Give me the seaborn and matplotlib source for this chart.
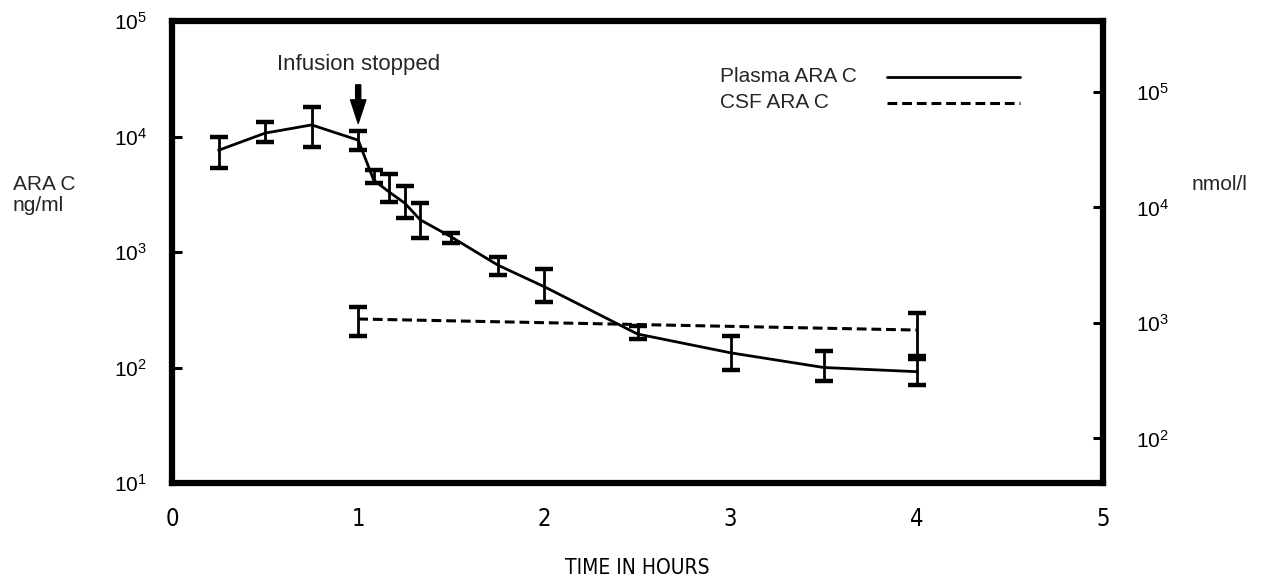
import matplotlib
matplotlib.use("Agg")
import matplotlib.pyplot as plt
import numpy as np
import pandas as pd
import seaborn as sns
from matplotlib import font_manager
from matplotlib.font_manager import FontProperties
from matplotlib.ticker import NullLocator

# ---------------- data ----------------
time_plasma = [0.25, 0.5, 0.75, 1.0, 1.083, 1.167, 1.25, 1.333, 1.5, 1.75, 2.0, 2.5, 3.0, 3.5, 4.0]
plasma_conc = [7600, 10700, 12600, 9300, 4200, 3300, 2650, 1900, 1350, 770, 500, 195, 134, 100, 92]
plasma_low = [5300, 8950, 8100, 7600, 3950, 2700, 1970, 1320, 1200, 630, 370, 177, 95, 76, 70]
plasma_high = [9900, 13400, 18000, 11200, 5100, 4700, 3700, 2650, 1460, 900, 710, 230, 187, 139, 118]

time_csf = [1.0, 4.0]
csf_conc = [263, 211]
csf_low = [187, 125]
csf_high = [334, 297]

x_ticks = [0, 1, 2, 3, 4, 5]
x_tick_labels = ["0", "1", "2", "3", "4", "5"]
y_ticks_ng = [1e1, 1e2, 1e3, 1e4, 1e5]
y_tick_labels_ng = [r"$\mathregular{10^{1}}$", r"$\mathregular{10^{2}}$", r"$\mathregular{10^{3}}$",
                    r"$\mathregular{10^{4}}$", r"$\mathregular{10^{5}}$"]
y_ticks_nmol = [1e2, 1e3, 1e4, 1e5]
y_tick_labels_nmol = [r"$\mathregular{10^{2}}$", r"$\mathregular{10^{3}}$",
                      r"$\mathregular{10^{4}}$", r"$\mathregular{10^{5}}$"]
NMOL_PER_NG = 4.11  # ARA C: 1 ng/ml = 4.11 nmol/l
series_labels = ["Plasma ARA C", "CSF ARA C"]
annotation_text = "Infusion stopped"
infusion_stop = 1.0

# ---------------- style ----------------
sns.set_theme(style="white")
plt.rcParams["font.family"] = ["Liberation Sans", "DejaVu Sans"]
plt.rcParams["mathtext.fontset"] = "custom"
plt.rcParams["mathtext.rm"] = "Liberation Sans"
plt.rcParams["mathtext.default"] = "regular"

# look for a condensed face for the time axis
cond_fp = None
names = {f.name for f in font_manager.fontManager.ttflist}
if "Liberation Sans Narrow" in names:
    cond_fp = FontProperties(family="Liberation Sans Narrow")
else:
    for f in font_manager.fontManager.ttflist:
        if "condensed" in str(f.stretch).lower() or "Condensed" in f.fname:
            if "DejaVuSans" in f.fname.replace("-", "") and "Bold" not in f.fname \
                    and "Oblique" not in f.fname and "Mono" not in f.fname:
                cond_fp = FontProperties(fname=f.fname)
                break
    if cond_fp is None:
        for f in font_manager.fontManager.ttflist:
            if ("Condensed" in f.fname or "Narrow" in f.fname) and "Bold" not in f.fname \
                    and "Italic" not in f.fname and "Oblique" not in f.fname:
                cond_fp = FontProperties(fname=f.fname)
                break
if cond_fp is None:
    cond_fp = FontProperties(family="Liberation Sans")

W, H = 1274, 584
fig = plt.figure(figsize=(W / 100, H / 100), dpi=100)
fig.patch.set_facecolor("white")
L, R, T, B = 172, 1103, 21, 483
ax = fig.add_axes([L / W, 1 - B / H, (R - L) / W, (B - T) / H])
ax.set_facecolor("white")

df_plasma = pd.DataFrame({"time": time_plasma, "conc": plasma_conc})
df_csf = pd.DataFrame({"time": time_csf, "conc": csf_conc})

sns.lineplot(data=df_plasma, x="time", y="conc", ax=ax, color="black", linewidth=2.0,
             estimator=None, errorbar=None, sort=False)
sns.lineplot(data=df_csf, x="time", y="conc", ax=ax, color="black", linewidth=2.2,
             linestyle=(0, (3.2, 1.6)), estimator=None, errorbar=None, sort=False)

pc = np.array(plasma_conc, float)
ax.errorbar(time_plasma, pc, yerr=[pc - np.array(plasma_low), np.array(plasma_high) - pc],
            fmt="none", ecolor="black", elinewidth=2.0, capsize=6.5, capthick=3.2)
cc = np.array(csf_conc, float)
ax.errorbar(time_csf, cc, yerr=[cc - np.array(csf_low), np.array(csf_high) - cc],
            fmt="none", ecolor="black", elinewidth=2.0, capsize=6.5, capthick=3.2)

ax.set_yscale("log")
ax.set_ylim(1e1, 1e5)
ax.set_xlim(0, 5)
ax.set_xticks(x_ticks)
ax.set_xticklabels(x_tick_labels)
for t in ax.get_xticklabels():
    t.set_fontproperties(cond_fp)
    t.set_fontsize(17)
ax.set_yticks(y_ticks_ng)
ax.set_yticklabels(y_tick_labels_ng, fontsize=15)
ax.yaxis.set_minor_locator(NullLocator())
ax.tick_params(axis="both", which="major", direction="in", length=7, width=2.2,
               color="black", labelcolor="black")
ax.tick_params(axis="y", pad=18)
ax.tick_params(axis="x", pad=17)
for s in ax.spines.values():
    s.set_visible(True)
    s.set_color("black")
    s.set_linewidth(4.5)
ax.grid(False)
ax.set_xlabel("TIME IN HOURS", labelpad=20, color="black")
ax.xaxis.label.set_fontproperties(cond_fp)
ax.xaxis.label.set_fontsize(15)
ax.set_ylabel("")

# secondary scale in nmol/l
ax2 = ax.twinx()
ax2.set_yscale("log")
ax2.set_ylim(1e1 * NMOL_PER_NG, 1e5 * NMOL_PER_NG)
ax2.set_yticks(y_ticks_nmol)
ax2.set_yticklabels(y_tick_labels_nmol, fontsize=15)
ax2.yaxis.set_minor_locator(NullLocator())
ax2.tick_params(axis="y", which="major", direction="in", length=7, width=2.2,
                color="black", labelcolor="black", pad=24)
for s in ax2.spines.values():
    s.set_visible(False)
ax2.grid(False)

# annotation: infusion stopped
ax.text(infusion_stop, 4.2e4, annotation_text, ha="center", va="center", fontsize=16)
ax.annotate("", xy=(infusion_stop, 1.3e4), xytext=(infusion_stop, 2.8e4),
            arrowprops=dict(arrowstyle="simple,head_length=1.3,head_width=0.85,tail_width=0.28",
                            color="black", mutation_scale=13, shrinkA=0, shrinkB=0))

# legend (text left, key on right)
leg_text_x = (720 - L) / (R - L)
leg_key_x0 = (887 - L) / (R - L)
leg_key_x1 = (1020 - L) / (R - L)
leg_y = [1 - (77 - T) / (B - T), 1 - (103 - T) / (B - T)]
leg_styles = ["-", (0, (3.2, 1.6))]
leg_lw = [2.0, 2.2]
for lab, yy, ls, lw in zip(series_labels, leg_y, leg_styles, leg_lw):
    ax.text(leg_text_x, yy, lab, transform=ax.transAxes, ha="left", va="center", fontsize=15)
    ax.plot([leg_key_x0, leg_key_x1], [yy, yy], transform=ax.transAxes, color="black",
            linestyle=ls, linewidth=lw)

# axis titles
fig.text(13 / W, 1 - 195 / H, "ARA C\nng/ml", ha="left", va="center", fontsize=15,
         linespacing=1.1)
fig.text(1192 / W, 1 - 185 / H, "nmol/l", ha="left", va="center", fontsize=15)

fig.savefig("out.png", dpi=100, facecolor="white")
